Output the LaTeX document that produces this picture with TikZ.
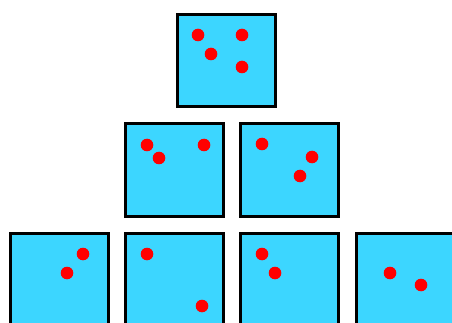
\documentclass[tikz,border=0pt]{standalone}
\usepackage{tikz}
\definecolor{tilecyan}{RGB}{60,214,255}
\definecolor{dotred}{RGB}{255,0,0}

\tikzset{
  tile/.style={draw=black, fill=tilecyan, line width=3pt, inner sep=0pt,
    minimum width=98pt, minimum height=92pt},
  dotmark/.style={fill=dotred}
}

\begin{document}
\begin{tikzpicture}[x=1pt, y=-1pt]
  \clip (0,0) rectangle (452,323);
  \useasboundingbox (0,0) rectangle (452,323);
  % tiles
  \node[tile] (top) at (226,60.5) {};
  \node[tile] (midleft) at (174.5,170) {};
  \node[tile] (midright) at (289.5,170) {};
  \node[tile] (lowa) at (59.5,279.5) {};
  \node[tile] (lowb) at (174.5,279.5) {};
  \node[tile] (lowc) at (289.5,279.5) {};
  \node[tile] (lowd) at (405.5,279.5) {};
  % dots
  \foreach \x/\y in {198/35, 242/35, 211/54, 242/67,
                     147/145, 159/158, 204/145,
                     262/144, 312/157, 300/176,
                     83/254, 67/273, 147/254, 202/306,
                     262/254, 275/273, 390/273, 421/285}
    \fill[dotmark] (\x,\y) circle (6.3);
\end{tikzpicture}
\end{document}
